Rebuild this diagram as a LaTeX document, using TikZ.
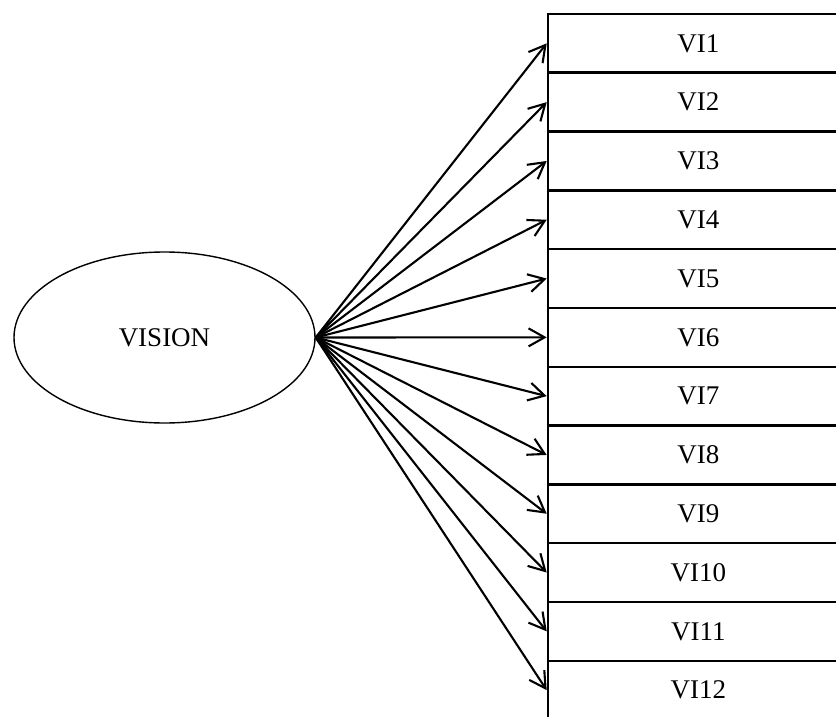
\documentclass[tikz,border=0pt]{standalone}
\usepackage{fontspec}
\setmainfont{Liberation Serif}
\usetikzlibrary{shapes.geometric,arrows.meta}
\begin{document}
\begin{tikzpicture}[x=1pt,y=-1pt,
  item/.style={draw,line width=2.5pt,minimum width=301pt,minimum height=58.8pt,
    inner sep=0pt,anchor=north west,font=\fontsize{27}{27}\selectfont},
  construct/.style={draw,ellipse,line width=1.4pt,minimum width=301pt,
    minimum height=171pt,inner sep=0pt,font=\fontsize{27}{27}\selectfont},
  link/.style={line width=2.1pt,-{Straight Barb[length=16pt,width=18pt,line width=2.1pt]}}]
  \clip (0,0) rectangle (836,717);
  \fill[white] (0,0) rectangle (836,717);
  % latent construct
  \node[construct] (vision) at (164.5,337.5) {VISION};
  % indicator boxes
  \foreach \i in {1,...,12}{
    \node[item] (vi\i) at (546.7,{12.7+58.8*(\i-1)}) {VI\i};
  }
  % loadings
  \foreach \i in {1,...,12}{
    \draw[link] (vision.east) -- (vi\i.west);
  }
\end{tikzpicture}
\end{document}
